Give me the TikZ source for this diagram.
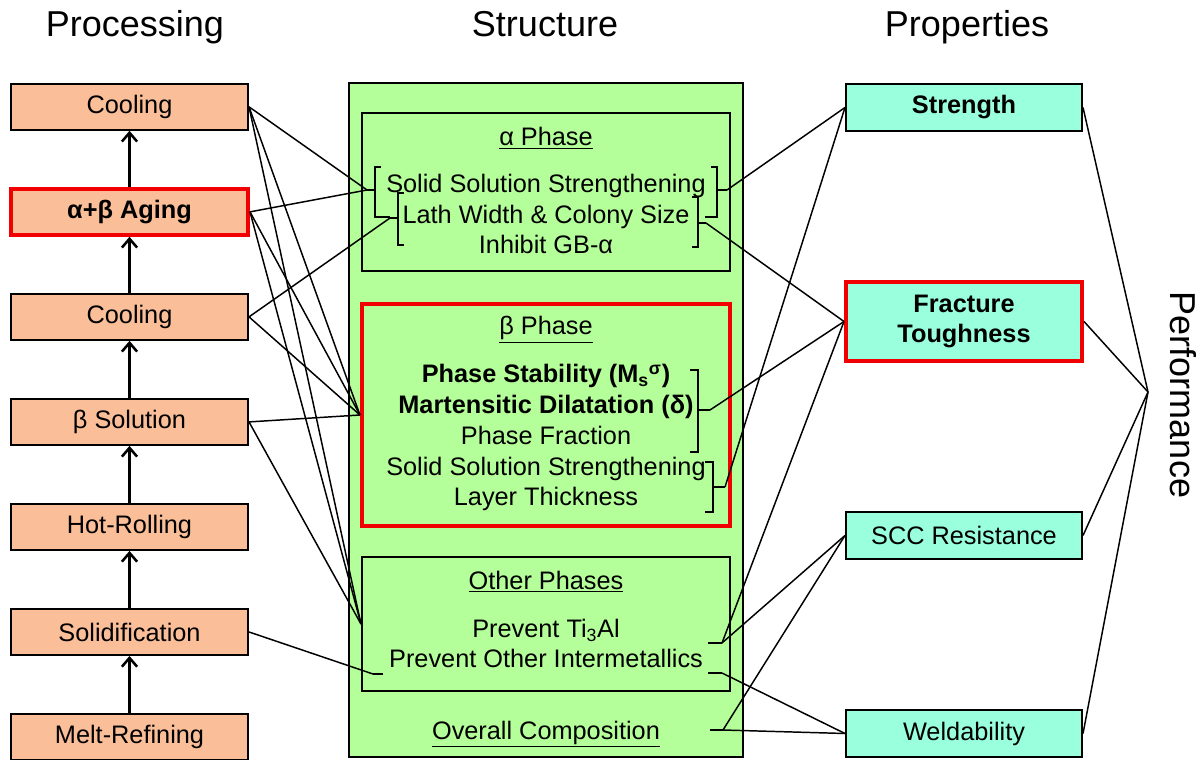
\documentclass[tikz,border=0pt]{standalone}
\usepackage{fontspec}
\setmainfont{Liberation Sans}
\usetikzlibrary{arrows.meta}
\definecolor{procorange}{RGB}{250,190,152}
\definecolor{structgreen}{RGB}{180,255,153}
\definecolor{propaqua}{RGB}{153,255,221}
\definecolor{hilitered}{RGB}{240,0,0}
\newcommand{\bodyfont}{\fontsize{18pt}{21.3pt}\selectfont}
\newcommand{\headfont}{\fontsize{25.6pt}{30pt}\selectfont}

\begin{document}
\begin{tikzpicture}[x=0.025cm, y=-0.025cm, node distance=2.625cm, >={Straight Barb[length=2.2mm,width=3.8mm]},
  procbox/.style={draw, rectangle, line width=1.4pt, fill=procorange, minimum width=5.925cm, minimum height=1.15cm, font=\bodyfont},
  propbox/.style={draw, rectangle, line width=1.4pt, fill=propaqua, minimum width=5.9cm, minimum height=1.175cm, font=\bodyfont, align=center},
  phasebox/.style={draw, rectangle, line width=1.4pt, fill=structgreen, minimum width=9.2cm},
  hilite/.style={draw=hilitered, line width=2.8pt},
  txt/.style={anchor=base, font=\bodyfont, inner sep=0pt},
  link/.style={line width=1.05pt},
  brk/.style={line width=1pt}]
        \useasboundingbox (0,0) rectangle (1203,760);

        % column titles
        \node (tproc) [anchor=base, font=\headfont] at (135,37) {Processing};
        \node (tstruct) [anchor=base, font=\headfont] at (545,37) {Structure};
        \node (tprop) [anchor=base, font=\headfont] at (967,37) {Properties};
        \node (tperf) [rotate=-90, font=\headfont] at (1183,395) {Performance};

        % processing steps
        \node (melt) [procbox] at (129.5,737) {Melt-Refining};
        \node (solid) [procbox, above of=melt] {Solidification};
        \node (hotroll) [procbox, above of=solid] {Hot-Rolling};
        \node (betasol) [procbox, above of=hotroll] {β Solution};
        \node (cool2) [procbox, above of=betasol] {Cooling};
        \node (aging) [procbox, hilite, above of=cool2, font=\bodyfont\bfseries] {α+β Aging};
        \node (cool1) [procbox, above of=aging] {Cooling};

        \draw[->, line width=1.8pt] (melt) -- (solid);
        \draw[->, line width=1.8pt] (solid) -- (hotroll);
        \draw[->, line width=1.8pt] (hotroll) -- (betasol);
        \draw[->, line width=1.8pt] (betasol) -- (cool2);
        \draw[->, line width=1.8pt] (cool2) -- (aging);
        \draw[->, line width=1.8pt] (aging) -- (cool1);

        % structure
        \node (struct) [draw, rectangle, line width=1.4pt, fill=structgreen, minimum width=9.85cm, minimum height=16.85cm] at (546,420) {};
        \node (alpha) [phasebox, minimum height=3.95cm] at (546,192) {};
        \node (beta) [phasebox, hilite, minimum height=5.55cm] at (546,415) {};
        \node (other) [phasebox, minimum height=3.35cm] at (546,624) {};

        \node (ahead) [txt] at (546,146) {\underline{α Phase}};
        \node (asss) [txt] at (546,193) {Solid Solution Strengthening};
        \node (alath) [txt] at (546,224) {Lath Width \& Colony Size};
        \node (agb) [txt] at (546,254) {Inhibit GB-α};

        \node (bhead) [txt] at (546,335) {\underline{β Phase}};
        \node (bstab) [txt, font=\bodyfont\bfseries] at (546,383) {Phase Stability (M\textsubscript{s}\textsuperscript{σ})};
        \node (bdil) [txt, font=\bodyfont\bfseries] at (546,414) {Martensitic Dilatation (δ)};
        \node (bfrac) [txt] at (546,444) {Phase Fraction};
        \node (bsss) [txt] at (546,475) {Solid Solution Strengthening};
        \node (blayer) [txt] at (546,505) {Layer Thickness};

        \node (ohead) [txt] at (546,589) {\underline{Other Phases}};
        \node (otial) [txt] at (546,637) {Prevent Ti\textsubscript{3}Al};
        \node (opoi) [txt] at (546,667) {Prevent Other Intermetallics};
        \node (overall) [txt] at (546,739) {\underline{Overall Composition}};

        % brackets and tick ends
        \coordinate (aSSSl) at (367,190);
        \coordinate (aLWl) at (390,218);
        \coordinate (aSSSr) at (727,190);
        \coordinate (aLWr) at (706,223);
        \coordinate (bStabr) at (710,410);
        \coordinate (bSSSr) at (725,487);
        \coordinate (oPOIl) at (373,674);
        \coordinate (oTiAlr) at (722,643);
        \coordinate (oPOIr) at (722,673);
        \coordinate (ovr) at (723,730);

        \draw[brk] (381,167) -- (375,167) -- (375,217) -- (390,217);
        \draw[brk] (375,190) -- (aSSSl);
        \draw[brk] (404,193) -- (398,193) -- (398,245) -- (404,245);
        \draw[brk] (398,218) -- (aLWl);
        \draw[brk] (711,167) -- (717,167) -- (717,217) -- (705,217);
        \draw[brk] (717,190) -- (aSSSr);
        \draw[brk] (692,197) -- (698,197) -- (698,247) -- (692,247);
        \draw[brk] (698,223) -- (aLWr);
        \draw[brk] (690,370) -- (698,370) -- (698,452) -- (690,452);
        \draw[brk] (698,410) -- (bStabr);
        \draw[brk] (705,462) -- (713,462) -- (713,512) -- (705,512);
        \draw[brk] (713,487) -- (bSSSr);
        \draw[brk] (383,674) -- (oPOIl);
        \draw[brk] (708,643) -- (oTiAlr);
        \draw[brk] (708,673) -- (oPOIr);
        \draw[brk] (710,730) -- (ovr);

        % properties
        \node (strength) [propbox, font=\bodyfont\bfseries] at (964,107.5) {Strength};
        \node (tough) [propbox, hilite, font=\bodyfont\bfseries, minimum height=1.975cm] at (964,321.5) {Fracture\\Toughness};
        \node (scc) [propbox] at (964,535.5) {SCC Resistance};
        \node (weld) [propbox] at (964,733.5) {Weldability};
        \coordinate (perfpt) at (1148,392);

        % processing -> structure
        \draw[link] (cool1.east) -- (aSSSl);
        \draw[link] (cool1.east) -- (beta.west);
        \draw[link] (cool1.east) -- (other.west);
        \draw[link] (aging.east) -- (aSSSl);
        \draw[link] (aging.east) -- (beta.west);
        \draw[link] (aging.east) -- (other.west);
        \draw[link] (cool2.east) -- (aLWl);
        \draw[link] (cool2.east) -- (beta.west);
        \draw[link] (betasol.east) -- (beta.west);
        \draw[link] (betasol.east) -- (other.west);
        \draw[link] (solid.east) -- (oPOIl);

        % structure -> properties
        \draw[link] (strength.west) -- (aSSSr);
        \draw[link] (strength.west) -- (bSSSr);
        \draw[link] (tough.west) -- (aLWr);
        \draw[link] (tough.west) -- (bStabr);
        \draw[link] (tough.west) -- (oTiAlr);
        \draw[link] (scc.west) -- (oTiAlr);
        \draw[link] (scc.west) -- (ovr);
        \draw[link] (weld.west) -- (oPOIr);
        \draw[link] (weld.west) -- (ovr);

        % properties -> performance
        \draw[link] (strength.east) -- (perfpt);
        \draw[link] (tough.east) -- (perfpt);
        \draw[link] (scc.east) -- (perfpt);
        \draw[link] (weld.east) -- (perfpt);
    \end{tikzpicture}
\end{document}
